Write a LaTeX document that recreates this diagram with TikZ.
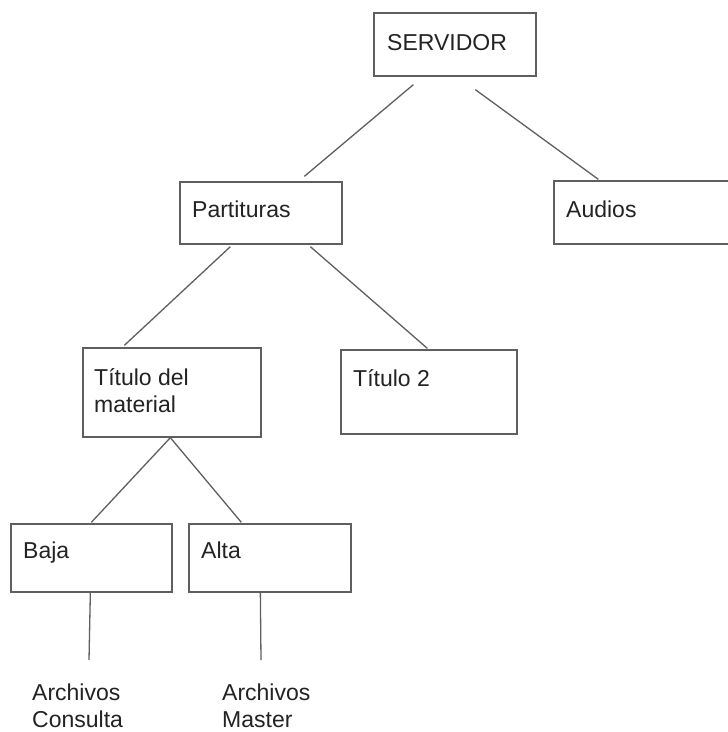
\documentclass[tikz,border=0pt]{standalone}
\usepackage{fontspec}
\setmainfont{Liberation Sans}
\definecolor{linegray}{RGB}{95,95,95}
\definecolor{txtgray}{RGB}{35,35,35}
\tikzset{
  box/.style={draw=linegray, line width=1.3pt, rectangle, inner sep=0pt, fill=white},
  lbl/.style={anchor=base west, inner sep=0pt, text=txtgray, font=\fontsize{23}{27.6}\selectfont},
  conn/.style={draw=linegray, line width=1.3pt}
}
\begin{document}
\begin{tikzpicture}[x=1pt,y=-1pt]
\useasboundingbox[fill=white] (0,0) rectangle (728,732);
% boxes
\node[box, minimum width=162pt, minimum height=63pt] (serv) at (455,44.5) {};
\node[box, minimum width=162pt, minimum height=62pt] (part) at (261,213) {};
\node[box, minimum width=186pt, minimum height=63pt] (aud) at (647,212.5) {};
\node[box, minimum width=178pt, minimum height=89pt] (titmat) at (172,392.5) {};
\node[box, minimum width=176pt, minimum height=84pt] (tit2) at (429,392) {};
\node[box, minimum width=161pt, minimum height=68pt] (baja) at (91.5,558) {};
\node[box, minimum width=162pt, minimum height=68pt] (alta) at (270,558) {};
% texts
\node[lbl] (tserv) at (387,50) {SERVIDOR};
\node[lbl] (tpart) at (192,217) {Partituras};
\node[lbl] (taud) at (566,217) {Audios};
\node[lbl] (ttitmat) at (94,385) {\begin{tabular}[t]{@{}l@{}}Título del\\material\end{tabular}};
\node[lbl] (ttit2) at (353,386) {Título 2};
\node[lbl] (tbaja) at (23,558) {Baja};
\node[lbl] (talta) at (201,558) {Alta};
\node[lbl] (cons) at (32,700) {\begin{tabular}[t]{@{}l@{}}Archivos\\Consulta\end{tabular}};
\node[lbl] (mast) at (222,700) {\begin{tabular}[t]{@{}l@{}}Archivos\\Master\end{tabular}};
\coordinate (consend) at (89,660);
\coordinate (mastend) at (261,660);
% connectors
\draw[conn] ([xshift=40pt,yshift=-8pt]serv.south west) -- ([xshift=125pt,yshift=5pt]part.north west);
\draw[conn] ([xshift=102pt,yshift=-13pt]serv.south west) -- ([xshift=45pt,yshift=1pt]aud.north west);
\draw[conn] ([xshift=51pt,yshift=-2pt]part.south west) -- ([xshift=42pt,yshift=2pt]titmat.north west);
\draw[conn] ([xshift=131pt,yshift=-2pt]part.south west) -- ([xshift=87pt,yshift=1pt]tit2.north west);
\draw[conn] ([xshift=88pt]titmat.south west) -- ([xshift=81pt,yshift=1pt]baja.north west);
\draw[conn] ([xshift=88pt]titmat.south west) -- ([xshift=53pt,yshift=1pt]alta.north west);
\draw[conn] ([xshift=80pt]baja.south west) -- (consend);
\draw[conn] ([xshift=72pt]alta.south west) -- (mastend);
\end{tikzpicture}
\end{document}
